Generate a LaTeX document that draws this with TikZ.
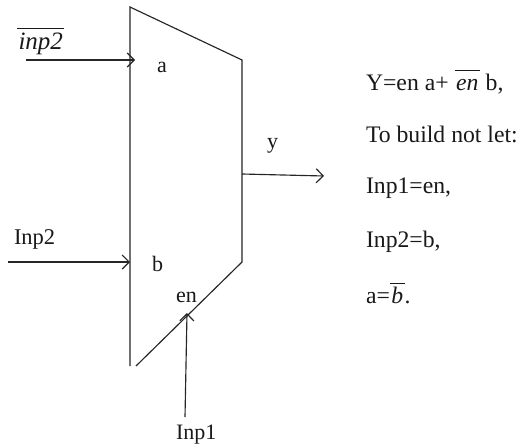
\documentclass[tikz,border=0pt]{standalone}
\usepackage{fontspec}
\setmainfont{Liberation Serif}
\usetikzlibrary{arrows.meta}
\newcommand{\barred}[1]{\(\overline{\hbox{\itshape\rule{0pt}{0.78em}\hspace{0.06em}#1\hspace{0.06em}}}\)}
\tikzset{
  wire/.style={draw=black!85, line width=1.15pt},
  sig/.style={wire, -{Straight Barb[length=7pt,width=14pt,line width=1.15pt]}},
  lbl/.style={anchor=base west, inner sep=0pt, outer sep=0pt, font=\fontsize{22}{24}\selectfont, text=black!90},
  eqn/.style={lbl, font=\fontsize{23.7}{26}\selectfont},
  barlbl/.style={lbl, font=\fontsize{25}{27}\selectfont}
}
\begin{document}
\begin{tikzpicture}[x=1pt,y=-1pt]
\useasboundingbox (0,0) rectangle (526,447);
\fill[white] (0,0) rectangle (526,447);
\coordinate (tl) at (130,7);
\coordinate (tr) at (242,60);
\coordinate (br) at (242,262);
\coordinate (bm) at (136,366);
\coordinate (bl) at (130,366);
\draw[wire, line join=miter] (bl) -- (tl) -- (tr) -- (br) -- (bm);
\coordinate (ina) at (26,60);
\coordinate (pa) at (135,60);
\coordinate (inb) at (8,262);
\coordinate (pb) at (130,262);
\coordinate (inen) at (185,417);
\coordinate (pen) at (187,313);
\coordinate (py) at (242,174);
\coordinate (outy) at (324,176);
\draw[sig] (ina) -- (pa);
\draw[sig] (inb) -- (pb);
\draw[sig] (inen) -- (pen);
\draw[sig] (py) -- (outy);
\node[barlbl] (linpb) at (17,49) {\barred{inp2}};
\node[lbl] (la) at (157,72) {a};
\node[lbl, font=\fontsize{22.5}{24}\selectfont] (linp2) at (14,244) {Inp2};
\node[lbl] (lb) at (152,271) {b};
\node[lbl] (len) at (176,302) {en};
\node[lbl] (linp1) at (176,439) {Inp1};
\node[lbl] (ly) at (267,148) {y};
\node[eqn] (t1) at (366,90) {Y=en a+ \barred{en} b,};
\node[eqn] (t2) at (366,142) {To build not let:};
\node[eqn] (t3) at (366,193) {Inp1=en,};
\node[eqn] (t4) at (366,247) {Inp2=b,};
\node[eqn] (t5) at (366,303) {a=\barred{b}.};
\end{tikzpicture}
\end{document}
